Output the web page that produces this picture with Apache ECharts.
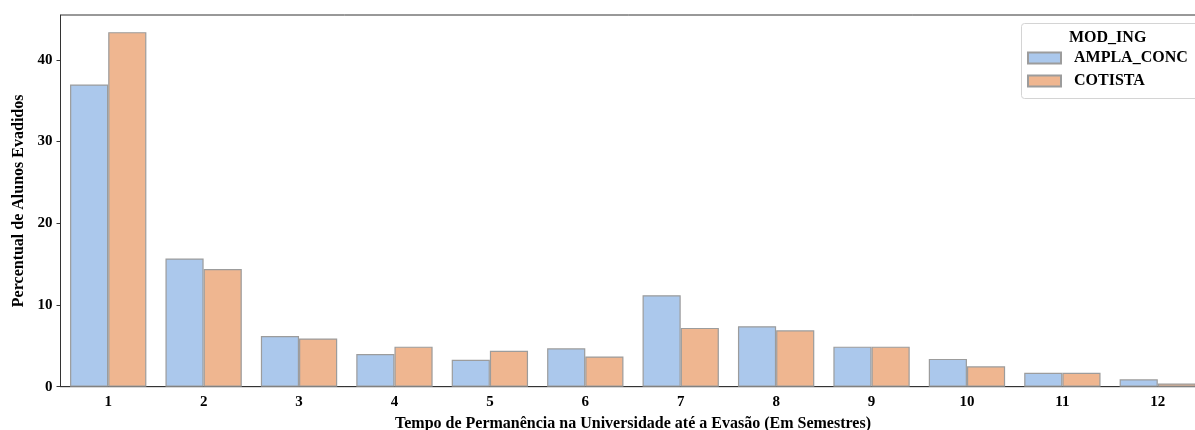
<!DOCTYPE html>
<html>
<head>
<meta charset="utf-8">
<script src="https://cdn.jsdelivr.net/npm/echarts@6/dist/echarts.min.js"></script>
<style>
html,body{margin:0;padding:0;background:#fff;}
#chart{width:1195px;height:430px;}
</style>
</head>
<body>
<div id="chart"></div>
<script>
const categories = ['1','2','3','4','5','6','7','8','9','10','11','12'];
const amplaConc = [37.0, 15.7, 6.2, 4.0, 3.3, 4.7, 11.2, 7.4, 4.9, 3.4, 1.7, 0.9];
const cotista = [43.4, 14.4, 5.9, 4.9, 4.4, 3.7, 7.2, 6.9, 4.9, 2.5, 1.7, 0.4];
const yTicks = [0, 10, 20, 30, 40];
const seriesNames = ['AMPLA_CONC', 'COTISTA'];
const legendTitle = 'MOD_ING';
const xTitle = 'Tempo de Permanência na Universidade até a Evasão (Em Semestres)';
const yTitle = 'Percentual de Alunos Evadidos';

const font = '"Liberation Serif", "Times New Roman", serif';
const chart = echarts.init(document.getElementById('chart'), null, {renderer: 'canvas'});
const barStyle = (c) => ({color: c, borderColor: '#9c9c9c', borderWidth: 1.2});

chart.setOption({
  animation: false,
  backgroundColor: '#ffffff',
  grid: {left: 60.5, top: 15, width: 1145, height: 371.7, outerBoundsMode: 'none', containLabel: false,
         show: true, borderColor: '#333', borderWidth: 1, backgroundColor: 'transparent'},
  xAxis: {
    type: 'category',
    data: categories,
    name: xTitle,
    nameLocation: 'middle',
    nameGap: 29,
    nameTextStyle: {fontFamily: font, fontWeight: 'bold', fontSize: 16, color: '#000'},
    axisLine: {lineStyle: {color: '#333', width: 1}},
    axisTick: {alignWithLabel: true, length: 4, lineStyle: {color: '#333'}},
    axisLabel: {fontFamily: font, fontWeight: 'bold', fontSize: 15, color: '#000', margin: 8}
  },
  yAxis: {
    type: 'value',
    min: 0,
    max: 45.5,
    interval: 10,
    name: yTitle,
    nameLocation: 'middle',
    nameGap: 34,
    nameTextStyle: {fontFamily: font, fontWeight: 'bold', fontSize: 16, color: '#000'},
    splitLine: {show: false},
    axisLine: {show: true, lineStyle: {color: '#333', width: 1}},
    axisTick: {show: true, length: 4, customValues: yTicks, lineStyle: {color: '#333'}},
    axisLabel: {
      fontFamily: font, fontWeight: 'bold', fontSize: 15, color: '#000', margin: 8,
      customValues: yTicks
    }
  },
  legend: {
    orient: 'vertical',
    left: 1027,
    top: 50,
    padding: 0,
    icon: 'rect',
    itemWidth: 33,
    itemHeight: 11,
    itemGap: 7,
    data: seriesNames,
    textStyle: {fontFamily: font, fontWeight: 'bold', fontSize: 16, color: '#000', padding: [0, 0, 0, 8]}
  },
  graphic: [
    {type: 'rect', left: 1021, top: 23, shape: {width: 190, height: 75, r: 3}, style: {fill: '#fff', stroke: '#d4d4d4', lineWidth: 1}, z: 0},
    {type: 'text', left: 1069, top: 30, style: {text: legendTitle, font: 'bold 16px ' + font, fill: '#000'}, z: 10}
  ],
  series: [
    {name: seriesNames[0], type: 'bar', data: amplaConc, barGap: '0%', barCategoryGap: '20%', itemStyle: barStyle('#abc8ec')},
    {name: seriesNames[1], type: 'bar', data: cotista, barGap: '0%', barCategoryGap: '20%', itemStyle: barStyle('#efb690')}
  ]
});
</script>
</body>
</html>
